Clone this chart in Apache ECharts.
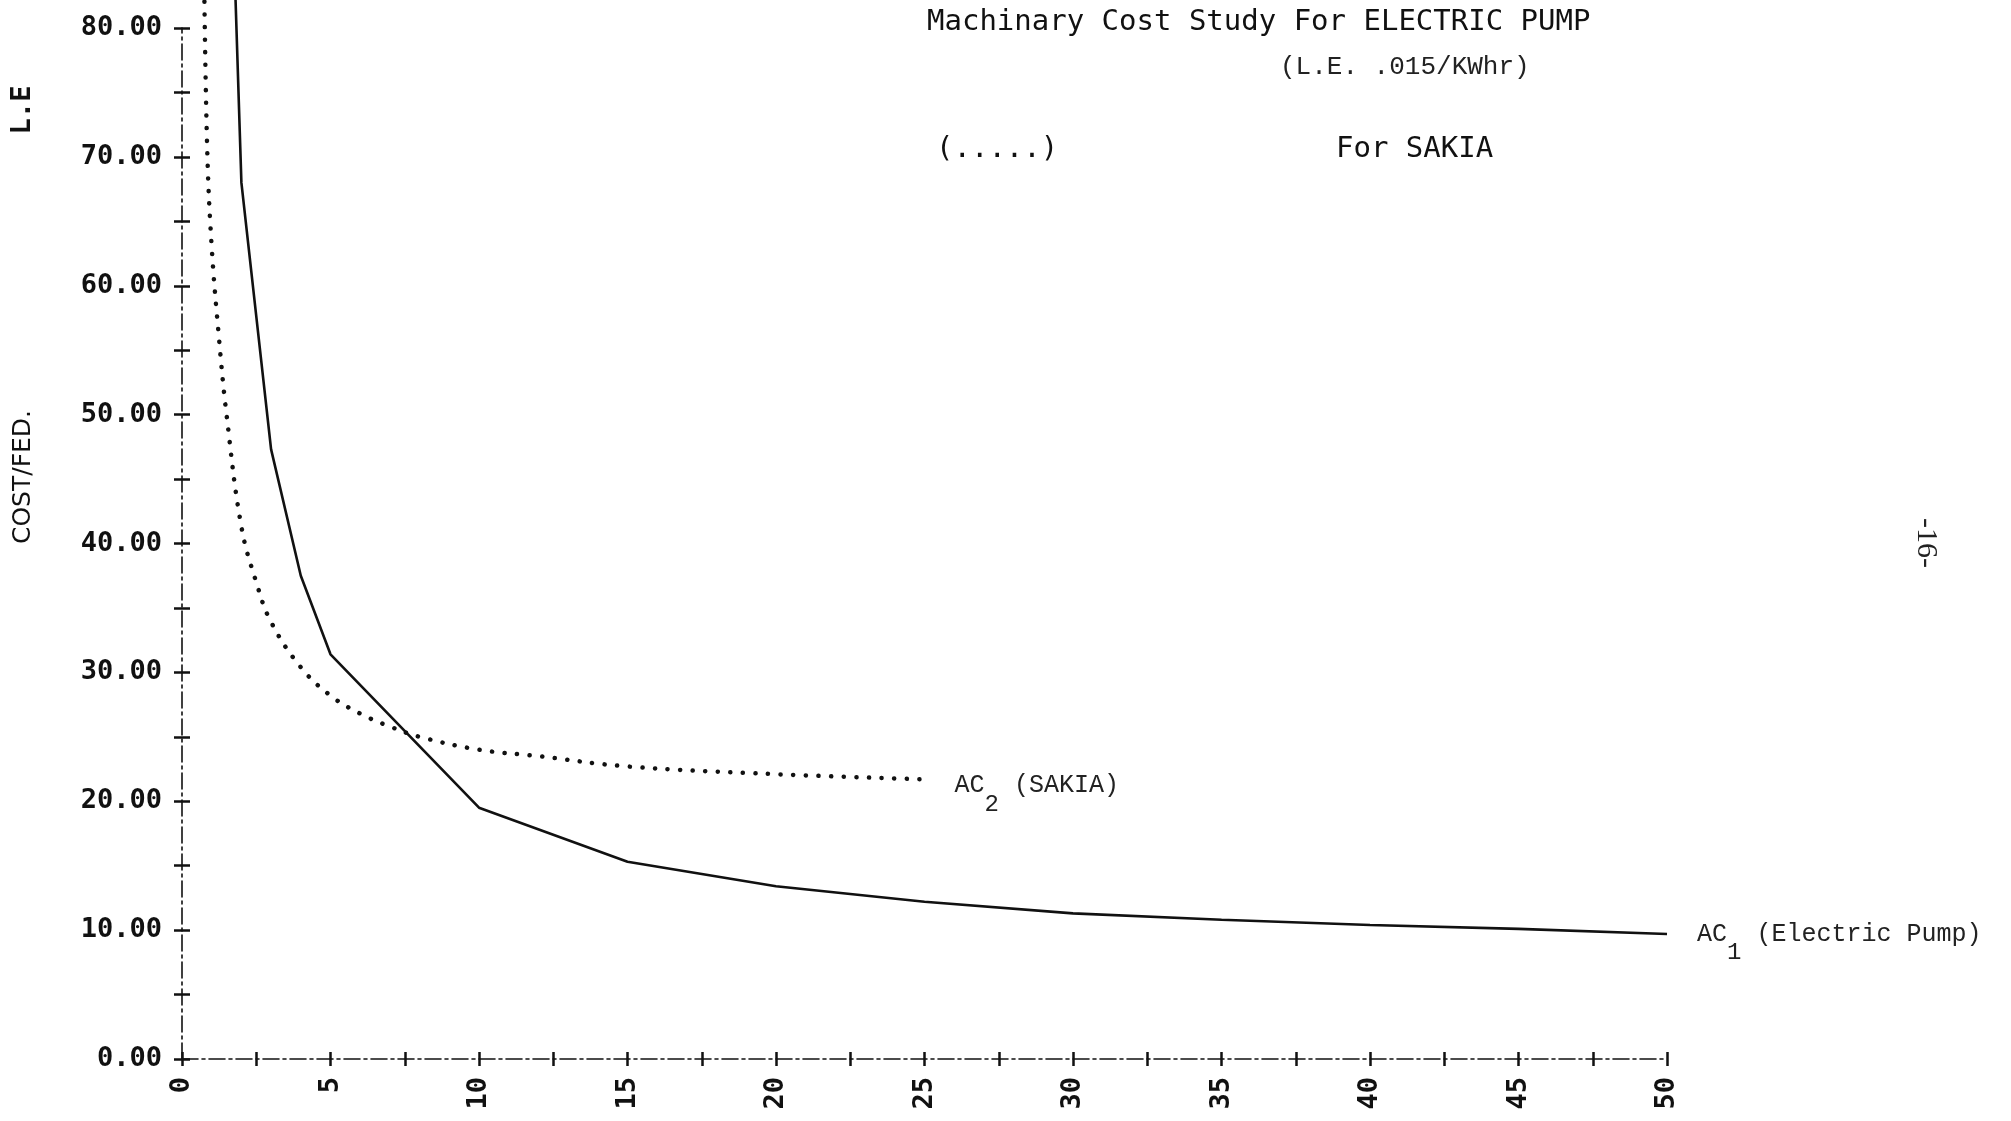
<!DOCTYPE html>
<html>
<head>
<meta charset="utf-8">
<script src="https://cdn.jsdelivr.net/npm/echarts@6/dist/echarts.min.js"></script>
<style>
html,body{margin:0;padding:0;background:#fff;}
#chart{width:2011px;height:1121px;}
</style>
</head>
<body>
<div id="chart"></div>
<script>
// ---- data ----
const ac1X = [1, 2, 3, 4, 5, 10, 15, 20, 25, 30, 35, 40, 45, 50];
const ac1Y = [140, 68, 47.3, 37.5, 31.4, 19.5, 15.3, 13.4, 12.2, 11.3, 10.8, 10.4, 10.1, 9.7];

const ac2X = [0.75, 0.85, 1, 1.25, 1.5, 2, 2.5, 3, 4, 5, 6, 7, 8, 10, 12, 15, 20, 25];
const ac2Y = [83, 70.5, 63, 55.8, 50, 41.3, 37, 33.9, 30.4, 28.2, 26.8, 25.8, 25.0, 24.0, 23.5, 22.7, 22.1, 21.7];

const ac1Name = 'AC1 (Electric Pump)';
const ac2Name = 'AC2 (SAKIA)';
const titleMain = 'Machinary Cost Study For ELECTRIC PUMP';
const titleSub = '(L.E. .015/KWhr)';
const legendDots = '(.....)';
const legendText = 'For SAKIA';
const yNameLower = 'COST/FED.';
const yNameUpper = 'L.E';
const pageNo = '-16-';

const xLabelStep = 5;
const yLabelStep = 10;

const ac1Data = ac1X.map((x, i) => [x, ac1Y[i]]);
const ac2Data = ac2X.map((x, i) => [x, ac2Y[i]]);

const ink = '#111';
const dotFont = 'DejaVu Sans Mono';
const typeFont = 'Liberation Mono';

const tickFmtX = v => (Math.abs(v % xLabelStep) < 1e-9 ? String(v) : '');
const tickFmtY = v => (Math.abs(v % yLabelStep) < 1e-9 ? v.toFixed(2) : '');

const axisLineStyle = { color: ink, width: 1.6, type: [16, 4, 3, 4] };
const tickStyle = { color: ink, width: 2.5 };

const richLabel = () => ({
  a: { fontFamily: typeFont, fontSize: 25, color: '#222', lineHeight: 30 },
  s: { fontFamily: typeFont, fontSize: 24, color: '#222', lineHeight: 30, padding: [38, 0, 0, 0] }
});

const chart = echarts.init(document.getElementById('chart'), null, { renderer: 'canvas' });
chart.setOption({
  backgroundColor: '#fff',
  animation: false,
  title: [
    { text: titleMain, left: 927, top: 8, padding: 0,
      textStyle: { fontFamily: dotFont, fontSize: 29, fontWeight: 'normal', color: ink } },
    { text: titleSub, left: 1280, top: 54, padding: 0,
      textStyle: { fontFamily: typeFont, fontSize: 26, fontWeight: 'normal', color: '#222' } },
    { text: legendDots, left: 936, top: 135, padding: 0,
      textStyle: { fontFamily: dotFont, fontSize: 29, fontWeight: 'normal', color: ink } },
    { text: legendText, left: 1336, top: 135, padding: 0,
      textStyle: { fontFamily: dotFont, fontSize: 29, fontWeight: 'normal', color: ink } }
  ],
  grid: { left: 182, right: 344, top: 28, bottom: 62, containLabel: false },
  xAxis: [
    {
      type: 'value', min: 0, max: 50, interval: 2.5, position: 'bottom',
      axisLine: { show: true, onZero: false, lineStyle: axisLineStyle },
      axisTick: { show: true, length: 7, lineStyle: tickStyle },
      axisLabel: { rotate: 90, margin: 18, formatter: tickFmtX, fontFamily: dotFont,
        fontWeight: 'bold', fontSize: 27, color: ink },
      splitLine: { show: false }
    },
    {
      type: 'value', min: 0, max: 50, interval: 2.5, position: 'bottom',
      axisLine: { show: false, onZero: false },
      axisTick: { show: true, inside: true, length: 7, lineStyle: tickStyle },
      axisLabel: { show: false },
      splitLine: { show: false }
    }
  ],
  yAxis: [
    {
      type: 'value', min: 0, max: 80, interval: 5, position: 'left',
      axisLine: { show: true, onZero: false, lineStyle: axisLineStyle },
      axisTick: { show: true, length: 8, lineStyle: tickStyle },
      axisLabel: { margin: 20, formatter: tickFmtY, fontFamily: dotFont,
        fontWeight: 'bold', fontSize: 27, color: ink },
      splitLine: { show: false }
    },
    {
      type: 'value', min: 0, max: 80, interval: 5, position: 'left',
      axisLine: { show: false, onZero: false },
      axisTick: { show: true, inside: true, length: 8, lineStyle: tickStyle },
      axisLabel: { show: false },
      splitLine: { show: false }
    }
  ],
  graphic: [
    { type: 'text', x: 23, y: 477, rotation: Math.PI / 2,
      style: { text: yNameLower, font: 'normal 25px "DejaVu Sans"', fill: ink,
        textAlign: 'center', textVerticalAlign: 'middle', align: 'center', verticalAlign: 'middle' } },
    { type: 'text', x: 23, y: 110, rotation: Math.PI / 2,
      style: { text: yNameUpper, font: 'bold 27px "DejaVu Sans Mono"', fill: ink,
        textAlign: 'center', textVerticalAlign: 'middle', align: 'center', verticalAlign: 'middle' } },
    { type: 'text', x: 1926, y: 543, rotation: -Math.PI / 2,
      style: { text: pageNo, font: 'normal 30px "Liberation Serif"', fill: '#222',
        textAlign: 'center', textVerticalAlign: 'middle', align: 'center', verticalAlign: 'middle' } }
  ],
  series: [
    {
      name: ac1Name, type: 'line', data: ac1Data, xAxisIndex: 0, yAxisIndex: 0,
      showSymbol: false, symbol: 'none', clip: false, smooth: false,
      lineStyle: { color: ink, width: 2.6 },
      endLabel: {
        show: true, distance: 30, offset: [0, 0],
        formatter: '{a|AC}{s|1}{a| (Electric Pump)}',
        rich: richLabel()
      }
    },
    {
      name: ac2Name, type: 'line', data: ac2Data, xAxisIndex: 0, yAxisIndex: 0,
      showSymbol: false, symbol: 'none', clip: false, smooth: 0.4,
      lineStyle: { color: ink, width: 4.5, type: [0.1, 12.5], cap: 'round' },
      endLabel: {
        show: true, distance: 30, offset: [0, 6],
        formatter: '{a|AC}{s|2}{a| (SAKIA)}',
        rich: richLabel()
      }
    }
  ]
});
</script>
</body>
</html>
